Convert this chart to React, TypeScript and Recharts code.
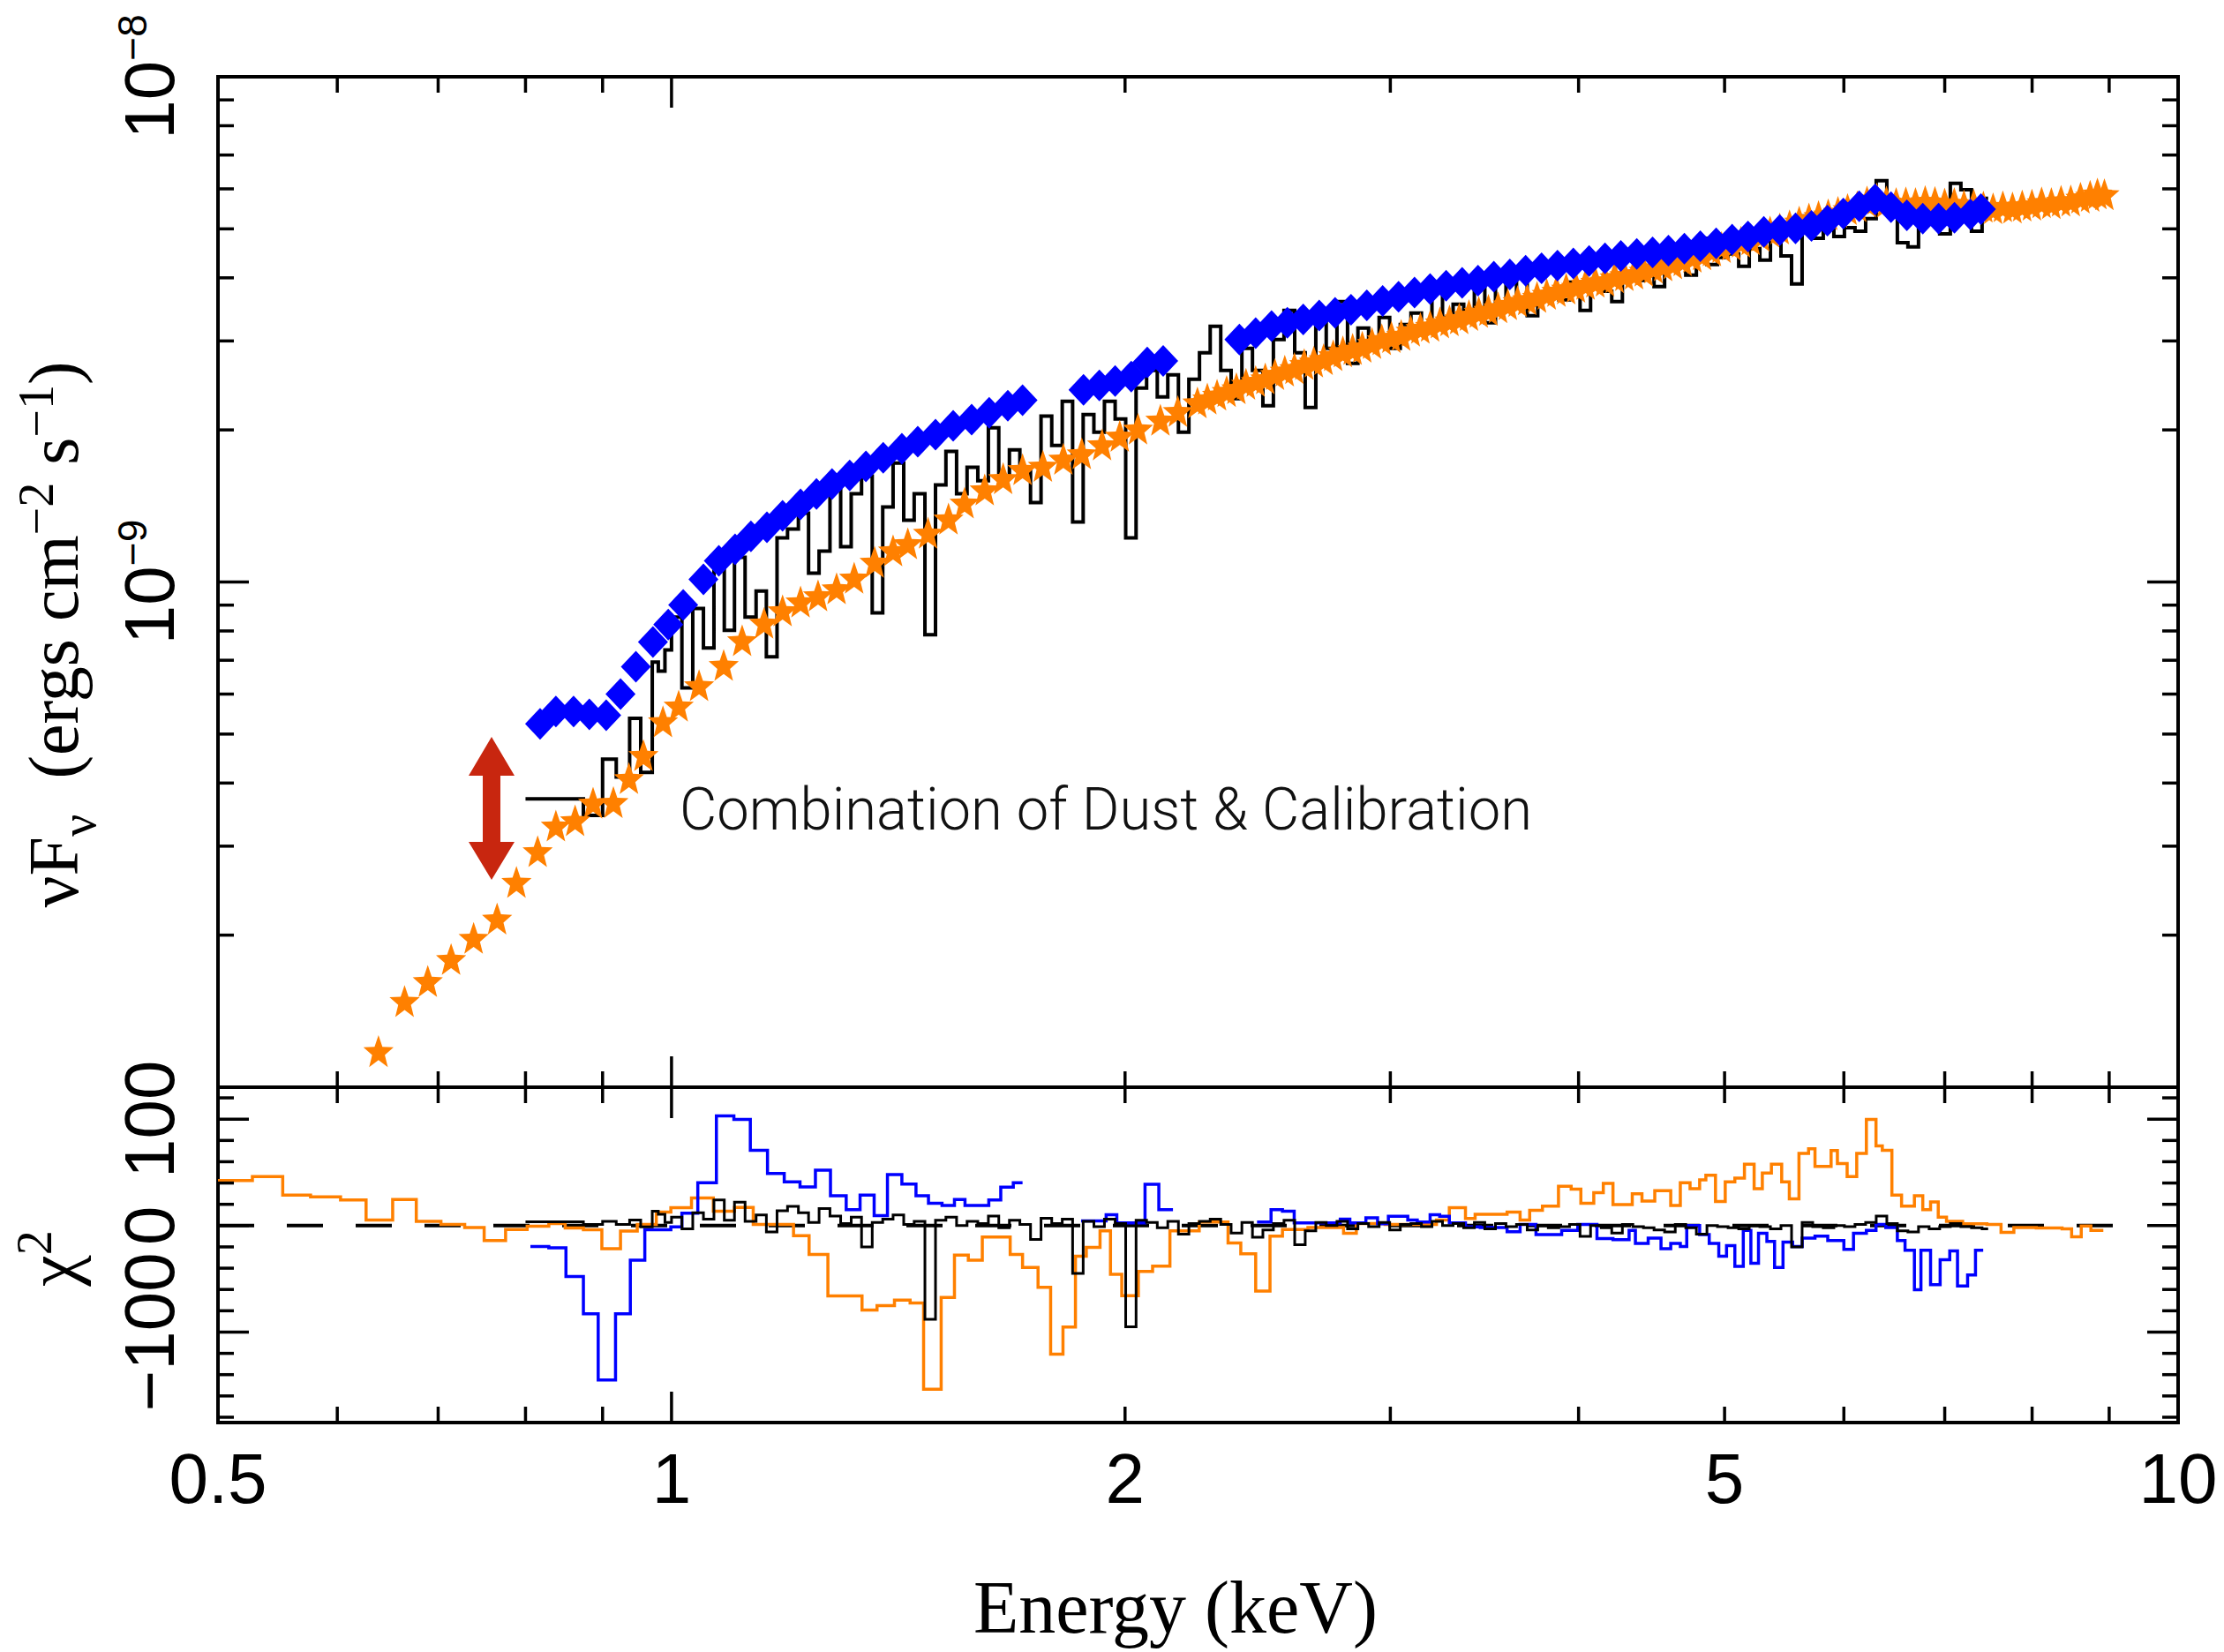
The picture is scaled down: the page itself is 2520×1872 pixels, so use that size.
import React from 'react';
import { ComposedChart, Line, Scatter, XAxis, YAxis, ReferenceArea } from 'recharts';

// model points (orange stars), flux in units of 1e-9 ergs cm^-2 s^-1
const starEnergy = [
  0.639, 0.665, 0.689, 0.714, 0.739, 0.766, 0.789, 0.815, 0.838, 0.863,
  0.887, 0.915, 0.937, 0.958, 0.987, 1.011, 1.043, 1.083, 1.114, 1.152,
  1.185, 1.218, 1.251, 1.287, 1.322, 1.364, 1.403, 1.435, 1.48, 1.527,
  1.565, 1.614, 1.66, 1.71, 1.764, 1.82, 1.872, 1.931, 1.984, 2.04,
  2.111, 2.168, 2.234, 2.268, 2.302, 2.336, 2.371, 2.406, 2.442, 2.478,
  2.515, 2.553, 2.591, 2.63, 2.669, 2.709, 2.749, 2.79, 2.832, 2.874,
  2.917, 2.961, 3.005, 3.05, 3.095, 3.141, 3.188, 3.236, 3.284, 3.333,
  3.383, 3.434, 3.485, 3.537, 3.59, 3.644, 3.698, 3.754, 3.81, 3.867,
  3.925, 3.984, 4.043, 4.104, 4.165, 4.227, 4.29, 4.354, 4.419, 4.485,
  4.552, 4.62, 4.69, 4.76, 4.831, 4.904, 4.977, 5.052, 5.127, 5.203,
  5.281, 5.36, 5.44, 5.522, 5.604, 5.688, 5.772, 5.858, 5.946, 6.034,
  6.124, 6.216, 6.309, 6.403, 6.499, 6.596, 6.694, 6.794, 6.896, 6.999,
  7.103, 7.209, 7.317, 7.426, 7.537, 7.65, 7.764, 7.88, 7.998, 8.117,
  8.239, 8.362, 8.487, 8.614, 8.742, 8.84, 8.935,
];
const starFlux = [
  0.117, 0.147, 0.161, 0.178, 0.196, 0.214, 0.253, 0.291, 0.327, 0.335,
  0.363, 0.364, 0.406, 0.451, 0.526, 0.565, 0.62, 0.68, 0.761, 0.824,
  0.872, 0.908, 0.934, 0.964, 1.012, 1.088, 1.146, 1.184, 1.242, 1.325,
  1.425, 1.513, 1.593, 1.66, 1.685, 1.74, 1.784, 1.858, 1.932, 1.996,
  2.079, 2.163, 2.25, 2.29, 2.33, 2.37, 2.4, 2.45, 2.48, 2.51,
  2.56, 2.6, 2.63, 2.68, 2.71, 2.74, 2.79, 2.84, 2.87, 2.9,
  2.95, 3.0, 3.03, 3.06, 3.12, 3.16, 3.19, 3.24, 3.27, 3.3,
  3.35, 3.4, 3.43, 3.47, 3.52, 3.57, 3.6, 3.64, 3.69, 3.74,
  3.78, 3.81, 3.86, 3.9, 3.92, 3.98, 4.02, 4.05, 4.1, 4.16,
  4.2, 4.24, 4.3, 4.37, 4.42, 4.5, 4.57, 4.62, 4.68, 4.73,
  4.81, 4.9, 4.97, 5.04, 5.13, 5.2, 5.26, 5.3, 5.36, 5.43,
  5.5, 5.62, 5.7, 5.62, 5.58, 5.6, 5.58, 5.63, 5.61, 5.57,
  5.58, 5.52, 5.54, 5.49, 5.45, 5.5, 5.47, 5.52, 5.54, 5.6,
  5.58, 5.64, 5.65, 5.72, 5.77, 5.83, 5.81,
];

// blue diamonds
const diamondEnergy = [
  0.818, 0.838, 0.861, 0.882, 0.905, 0.925, 0.947, 0.972, 0.995, 1.018,
  1.05, 1.075, 1.102, 1.129, 1.157, 1.185, 1.218, 1.248, 1.278, 1.313,
  1.346, 1.382, 1.422, 1.457, 1.497, 1.538, 1.582, 1.625, 1.672, 1.71,
  1.877, 1.923, 1.97, 2.019, 2.069, 2.12,
  2.382, 2.442, 2.502, 2.563, 2.626, 2.691, 2.757, 2.825, 2.894, 2.965,
  3.038, 3.113, 3.188, 3.267, 3.348, 3.43, 3.514, 3.601, 3.689, 3.78,
  3.873, 3.968, 4.065, 4.165, 4.267, 4.372, 4.479, 4.589, 4.702, 4.818,
  4.936, 5.058, 5.182, 5.309, 5.44, 5.573, 5.71, 5.851, 5.995, 6.142,
  6.293, 6.448, 6.606, 6.769, 6.935, 7.105, 7.28, 7.398,
];
const diamondFlux = [
  0.524, 0.554, 0.554, 0.547, 0.545, 0.6, 0.68, 0.761, 0.824, 0.901,
  1.012, 1.101, 1.16, 1.232, 1.283, 1.352, 1.425, 1.494, 1.562, 1.626,
  1.693, 1.762, 1.835, 1.895, 1.957, 2.037, 2.095, 2.163, 2.234, 2.289,
  2.4, 2.449, 2.499, 2.55, 2.72, 2.74,
  3.02, 3.11, 3.21, 3.26, 3.31, 3.37, 3.41, 3.46, 3.53, 3.6,
  3.67, 3.74, 3.8, 3.86, 3.91, 3.95, 4.02, 4.06, 4.13, 4.18,
  4.23, 4.27, 4.32, 4.37, 4.42, 4.46, 4.49, 4.53, 4.57, 4.62,
  4.68, 4.76, 4.83, 4.93, 4.97, 5.01, 5.07, 5.19, 5.36, 5.54,
  5.72, 5.52, 5.32, 5.24, 5.24, 5.26, 5.34, 5.47,
];

// black histogram: bin left edges (last entry closes the final bin)
const blackEdges = [
  0.8, 0.874, 0.9, 0.919, 0.938, 0.954, 0.971, 0.98, 0.99,
  1.0, 1.016, 1.033, 1.05, 1.067, 1.084, 1.101, 1.119, 1.138, 1.156,
  1.175, 1.194, 1.214, 1.233, 1.253, 1.274, 1.295, 1.316, 1.337, 1.359,
  1.381, 1.403, 1.426, 1.449, 1.473, 1.497, 1.521, 1.546, 1.571, 1.597,
  1.623, 1.649, 1.676, 1.703, 1.731, 1.759, 1.788, 1.817, 1.846, 1.876,
  1.907, 1.938, 1.97, 2.002, 2.034, 2.067, 2.101, 2.135, 2.17, 2.205,
  2.241, 2.278, 2.315, 2.352, 2.391, 2.43, 2.469, 2.509, 2.55, 2.592,
  2.634, 2.677, 2.72, 2.765, 2.81, 2.855, 2.902, 2.949, 2.997, 3.046,
  3.096, 3.146, 3.197, 3.249, 3.302, 3.356, 3.411, 3.466, 3.523, 3.58,
  3.638, 3.698, 3.758, 3.819, 3.881, 3.945, 4.009, 4.074, 4.141, 4.208,
  4.277, 4.346, 4.417, 4.489, 4.562, 4.637, 4.712, 4.789, 4.867, 4.946,
  5.027, 5.109, 5.192, 5.277, 5.363, 5.45, 5.539, 5.629, 5.721, 5.814,
  5.909, 6.005, 6.103, 6.203, 6.304, 6.407, 6.511, 6.617, 6.725, 6.835,
  6.946, 7.06, 7.175, 7.292, 7.411, 7.48,
];
const blackFlux = [
  0.372, 0.345, 0.446, 0.411, 0.537, 0.42, 0.694, 0.666, 0.734,
  0.852, 0.617, 0.886, 0.74, 1.084, 0.802, 1.119, 0.852, 0.96, 0.711,
  1.223, 1.273, 1.368, 1.041, 1.151, 1.543, 1.174, 1.495, 1.62, 0.869,
  1.407, 1.72, 1.325, 1.495, 0.786, 1.556, 1.813, 1.495, 1.686, 1.587,
  2.02, 1.62, 1.827, 1.686, 1.436, 2.129, 1.864, 2.279, 1.314, 2.146,
  1.98, 2.279, 2.103, 1.223, 2.421, 2.624, 2.325, 2.571, 1.98, 2.52,
  2.843, 3.207, 2.624, 2.307, 2.9, 2.624, 2.234, 3.019, 3.447, 2.843,
  2.216, 3.272, 2.9, 3.589, 2.709, 3.181, 3.019, 3.338, 2.9, 3.233,
  3.406, 3.181, 3.889, 3.338, 3.545, 3.312, 3.889, 3.259, 4.049, 3.545,
  4.0, 3.365, 3.691, 3.796, 3.617, 3.92, 3.447, 3.952, 3.765, 3.589,
  4.081, 3.952, 4.164, 3.842, 4.249, 4.512, 4.049, 4.792, 4.249, 4.387,
  4.458, 4.215, 4.567, 4.335, 4.754, 4.422, 3.889, 5.3, 4.792, 5.09,
  4.831, 5.029, 4.949, 5.236, 6.225, 5.744, 4.697, 4.604, 5.561, 5.516,
  4.889, 6.15, 5.979, 4.949, 5.744,
];
const blackChi = [
  3.5, 1.1, 3.9, 1.1, 5.2, -1.1, 13.5, 10.7, 3,
  8, -3, 12, 6, 24, 5, 22, 4, 10, -6,
  14, 18, 12, 3, 16, 9, 2, 8, -20, 3,
  6, 10, 1, 4, -88, 5, 8, 0, 4, 2,
  9, -2, 5, 1, -13, 7, 2, 6, -45, 4,
  -1, 6, 2, -95, 5, 3, -2, 4, -8, 2,
  4, 6, 1, -7, 3, -11, -4, 2, 5, -18,
  -5, 3, 0, 4, -3, 2, -1, 3, -4, 1,
  2, -1, 4, 0, 2, -2, 3, -3, 2, -1,
  1, -4, 0, -2, -1, 1, -10, 0, -2, -7,
  1, -1, -2, -4, -6, 1, -2, -8, 0, -1,
  -2, -3, 0, -1, -3, 0, -20, 3, -1, -2,
  0, -1, 1, 3, 9, 2, -5, -6, -1, -3,
  -1, 2, -1, -2, -3,
];

// orange residuals
const orangeChiEdges = [
  0.5, 0.527, 0.552, 0.576, 0.603, 0.627, 0.653, 0.677, 0.703, 0.729,
  0.751, 0.776, 0.802, 0.829, 0.85, 0.874, 0.899, 0.925, 0.949, 0.977,
  0.999, 1.031, 1.066, 1.101, 1.133, 1.205, 1.234, 1.27, 1.338, 1.369,
  1.406, 1.44, 1.47, 1.51, 1.541, 1.574, 1.608, 1.678, 1.71, 1.751,
  1.785, 1.819, 1.854, 1.885, 1.925, 1.956, 1.99, 2.041, 2.086, 2.142,
  2.24, 2.341, 2.387, 2.442, 2.496, 2.544, 2.645, 2.793, 2.848, 2.976,
  3.219, 3.283, 3.365, 3.415, 3.586, 3.658, 3.712, 3.785, 3.879, 3.955,
  4.014, 4.094, 4.154, 4.216, 4.342, 4.407, 4.494, 4.605, 4.673, 4.743,
  4.813, 4.859, 4.931, 5.005, 5.079, 5.154, 5.231, 5.297, 5.371, 5.456,
  5.52, 5.602, 5.685, 5.741, 5.884, 5.941, 6.03, 6.119, 6.21, 6.302,
  6.363, 6.457, 6.553, 6.683, 6.769, 6.85, 6.931, 7.019, 7.194, 7.466,
  7.629, 7.78, 8.051, 8.375, 8.498, 8.624, 8.752, 8.92,
];
const orangeChi = [
  42.4, 46, 28.7, 27, 24.2, 5.2, 24.5, 3.9, 1.1, -1.7,
  -14, -3.6, -0.6, 1.9, -2.2, -3.9, -21.8, -5.2, 1.1, 12.7,
  16.8, 25.9, 13.5, 17.1, 1.1, -9.4, -27, -66.1, -79.3, -75.2,
  -70, -72.7, -153.7, -67.5, -27.8, -32.5, -10.7, -27, -39.4, -57.9,
  -120.7, -95.3, -28.7, -20.4, -5, -45.7, -65.8, -43, -38, -5,
  3.3, -16.3, -26.4, -61.4, -9.9, -3.6, -1.7, -7.2, 1.9, 1.1,
  5.2, 16.8, 6.6, 10.7, 12.7, 5.2, 14.3, 18.2, 36.9, 34.2,
  20.9, 30.9, 39.7, 19.8, 30, 23.1, 32.8, 19, 40.2, 34.7,
  43, 47.4, 22.6, 41, 44.6, 57.6, 34.7, 49.3, 57.6, 41,
  25.1, 67.8, 72.2, 55.6, 70.5, 58.4, 46, 67.8, 99.7, 74.9,
  70.8, 28.7, 18.2, 28.1, 14.9, 22.3, 8, 3.9, 1.7, 1.1,
  -6.3, -1.7, -2.2, -3, -10.5, -0.3, -4.4,
];

// blue residuals, three separate groups
const blueChiEdgesA = [
  0.806, 0.829, 0.851, 0.874, 0.894, 0.918, 0.939, 0.96, 0.999, 1.016,
  1.041, 1.071, 1.1, 1.128, 1.158, 1.188, 1.217, 1.246, 1.275, 1.306,
  1.334, 1.363, 1.391, 1.422, 1.453, 1.481, 1.512, 1.541, 1.566, 1.624,
  1.654, 1.686, 1.71,
];
const blueChiA = [
  -19.6, -20.9, -47.9, -82.9, -144.9, -82.9, -32.5, -3.9, -1.1, 11.6,
  40.2, 103, 99.7, 70.8, 49, 41, 36.4, 52.1, 28.1, 14.9,
  28.7, 9.4, 47.9, 39.1, 28.1, 20.9, 19, 24.5, 19, 24,
  36.1, 40.2,
];
const blueChiEdgesB = [1.87, 1.943, 1.975, 2.062, 2.106, 2.152];
const blueChiB = [4.4, 10.2, 2.5, 38.8, 14.9];
const blueChiEdgesC = [
  2.447, 2.5, 2.544, 2.59, 2.779, 2.82, 2.89, 2.942, 2.991, 3.081,
  3.126, 3.188, 3.235, 3.283, 3.365, 3.442, 3.586, 3.658, 3.748, 3.898,
  3.995, 4.114, 4.216, 4.321, 4.363, 4.449, 4.537, 4.605, 4.673, 4.719,
  4.813, 4.884, 4.956, 5.015, 5.079, 5.145, 5.205, 5.266, 5.334, 5.397,
  5.467, 5.548, 5.63, 5.741, 5.854, 6.0, 6.089, 6.21, 6.302, 6.397,
  6.511, 6.588, 6.683, 6.75, 6.85, 6.951, 7.054, 7.138, 7.249, 7.337,
  7.424,
];
const blueChiC = [
  3.3, 14.9, 13.5, 2.5, 6.1, 2.5, 7.4, 1.7, 8.8, 5.2,
  3.3, 10.2, 8.8, 2.5, -1.1, -1.7, -5.8, 1.1, -8.5, -4.4,
  1.1, -12.1, -13.2, -4.4, -16.8, -11.8, -21.8, -16.8, -19.6, 0,
  -8.5, -16.8, -28.7, -18.7, -38.3, -4.4, -35.3, -7.2, -14.9, -39.4,
  -15.4, -19.6, -11.8, -9.9, -14, -22.3, -7.2, -4.4, 1.1, -1.7,
  -14, -23.1, -60.3, -23.1, -55.4, -32, -23.7, -56.7, -46.3, -23.1,
];
const zeroLineEnergy = [0.5, 9.2];

const xTicks = [0.5, 0.6, 0.7, 0.8, 0.9, 1, 2, 3, 4, 5, 6, 7, 8, 9, 10];
const xLabels: Record<string, string> = { '0.5': '0.5', '1': '1', '2': '2', '5': '5', '10': '10' };
const fluxTicks = [
  1e-10, 2e-10, 3e-10, 4e-10, 5e-10, 6e-10, 7e-10, 8e-10, 9e-10,
  1e-9, 2e-9, 3e-9, 4e-9, 5e-9, 6e-9, 7e-9, 8e-9, 9e-9, 1e-8,
];
const chiTicks = [-180, -160, -140, -120, -100, -80, -60, -40, -20, 0, 20, 40, 60, 80, 100, 120];
const chiLabels: Record<string, string> = { '-100': '\u2212100', '0': '0', '100': '100' };

const ORANGE = '#FF8000';
const BLUE = '#0000FF';
const INK = '#000';
const SANS = '"Liberation Sans", Arial, Helvetica, sans-serif';
const SERIF = '"Liberation Serif", "Times New Roman", serif';

const PLOT_W = 2221;
const TOP_H = 1145;
const RES_H = 380;
const TICK_W = 3.5;

const pointRows = (es: number[], fs: number[]) => es.map((e, i) => ({ e, f: fs[i] * 1e-9 }));
const stepRows = (edges: number[], vals: number[], scale = 1) =>
  edges.map((e, i) => ({ e, v: vals[Math.min(i, vals.length - 1)] * scale }));

const starRows = pointRows(starEnergy, starFlux);
const diamondRows = pointRows(diamondEnergy, diamondFlux);
const blackRows = stepRows(blackEdges, blackFlux, 1e-9);
const blackChiRows = stepRows(blackEdges, blackChi);
const orangeChiRows = stepRows(orangeChiEdges, orangeChi);
const blueRowsA = stepRows(blueChiEdgesA, blueChiA);
const blueRowsB = stepRows(blueChiEdgesB, blueChiB);
const blueRowsC = stepRows(blueChiEdgesC, blueChiC);
const zeroRows = zeroLineEnergy.map((e) => ({ e, v: 0 }));

const Star = (p: any) => {
  const pts: string[] = [];
  for (let k = 0; k < 10; k++) {
    const a = -Math.PI / 2 + (k * Math.PI) / 5;
    const r = k % 2 === 0 ? 1 : 0.42;
    pts.push(`${p.cx + 18 * r * Math.cos(a)},${p.cy + 20 * r * Math.sin(a)}`);
  }
  return <polygon points={pts.join(' ')} fill={ORANGE} />;
};

const Diamond = (p: any) => (
  <polygon
    points={`${p.cx},${p.cy - 18} ${p.cx + 17},${p.cy} ${p.cx},${p.cy + 18} ${p.cx - 17},${p.cy}`}
    fill={BLUE}
  />
);

function makeXTick(panelH: number, withLabels: boolean) {
  return (props: any) => {
    const { x, y, payload } = props;
    const v = payload.value;
    const len = v === 1 || v === 10 ? 35 : 18;
    const label = withLabels ? xLabels[String(v)] : undefined;
    return (
      <g>
        <line x1={x} x2={x} y1={y} y2={y - len} stroke={INK} strokeWidth={TICK_W} />
        <line x1={x} x2={x} y1={y - panelH} y2={y - panelH + len} stroke={INK} strokeWidth={TICK_W} />
        {label && (
          <text x={x} y={y + 91} textAnchor="middle" fontFamily={SANS} fontSize={80} fill={INK}>
            {label}
          </text>
        )}
      </g>
    );
  };
}

const fluxTick = (props: any) => {
  const { x, y, payload } = props;
  const v = payload.value;
  const exp = Math.round(Math.log10(v));
  const major = Math.abs(v / Math.pow(10, exp) - 1) < 1e-6;
  const len = major ? 35 : 18;
  return (
    <g>
      <line x1={x} x2={x + len} y1={y} y2={y} stroke={INK} strokeWidth={TICK_W} />
      <line x1={x + PLOT_W} x2={x + PLOT_W - len} y1={y} y2={y} stroke={INK} strokeWidth={TICK_W} />
      {major && exp > -10 && (
        <text transform={`translate(${x - 50} ${y}) rotate(-90)`} textAnchor="middle" fontFamily={SANS} fontSize={80} fill={INK}>
          10
          <tspan dy={-31} fontSize={46}>{`\u2212${-exp}`}</tspan>
        </text>
      )}
    </g>
  );
};

const chiTick = (props: any) => {
  const { x, y, payload } = props;
  const v = payload.value;
  const label = chiLabels[String(v)];
  const len = label ? 35 : 18;
  return (
    <g>
      <line x1={x} x2={x + len} y1={y} y2={y} stroke={INK} strokeWidth={TICK_W} />
      <line x1={x + PLOT_W} x2={x + PLOT_W - len} y1={y} y2={y} stroke={INK} strokeWidth={TICK_W} />
      {label && (
        <text transform={`translate(${x - 50} ${y}) rotate(-90)`} textAnchor="middle" fontFamily={SANS} fontSize={80} fill={INK}>
          {label}
        </text>
      )}
    </g>
  );
};

export default function App() {
  return (
    <div style={{ position: 'absolute', left: 0, top: 0, width: 2520, height: 1872, background: '#fff' }}>
      <div style={{ position: 'absolute', left: 0, top: 1132 }}>
        <ComposedChart width={2520} height={740} margin={{ top: 100, right: 52, bottom: 259, left: 246 }}>
          <XAxis
            dataKey="e"
            type="number"
            scale="log"
            domain={[0.5, 10]}
            allowDataOverflow
            ticks={xTicks}
            interval={0}
            height={1}
            tickSize={0}
            tickMargin={0}
            tickLine={false}
            axisLine={false}
            tick={makeXTick(RES_H, true)}
          />
          <YAxis
            type="number"
            domain={[-185, 130]}
            allowDataOverflow
            ticks={chiTicks}
            interval={0}
            width={1}
            tickSize={0}
            tickMargin={0}
            tickLine={false}
            axisLine={false}
            tick={chiTick}
          />
          <ReferenceArea x1={0.5} x2={10} y1={-185} y2={130} fill="none" stroke={INK} strokeWidth={4} ifOverflow="visible" />
          <Line data={zeroRows} dataKey="v" stroke={INK} strokeWidth={4} strokeDasharray="41 37" dot={false} activeDot={false} isAnimationActive={false} />
          <Line data={orangeChiRows} dataKey="v" type="stepAfter" stroke={ORANGE} strokeWidth={3.5} dot={false} activeDot={false} isAnimationActive={false} />
          <Line data={blueRowsA} dataKey="v" type="stepAfter" stroke={BLUE} strokeWidth={3.5} dot={false} activeDot={false} isAnimationActive={false} />
          <Line data={blueRowsB} dataKey="v" type="stepAfter" stroke={BLUE} strokeWidth={3.5} dot={false} activeDot={false} isAnimationActive={false} />
          <Line data={blueRowsC} dataKey="v" type="stepAfter" stroke={BLUE} strokeWidth={3.5} dot={false} activeDot={false} isAnimationActive={false} />
          <Line data={blackChiRows} dataKey="v" type="stepAfter" stroke={INK} strokeWidth={3} dot={false} activeDot={false} isAnimationActive={false} />
        </ComposedChart>
      </div>

      <div style={{ position: 'absolute', left: 0, top: 0 }}>
        <ComposedChart width={2520} height={1240} margin={{ top: 87, right: 52, bottom: 7, left: 246 }}>
          <XAxis
            dataKey="e"
            type="number"
            scale="log"
            domain={[0.5, 10]}
            allowDataOverflow
            ticks={xTicks}
            interval={0}
            height={1}
            tickSize={0}
            tickMargin={0}
            tickLine={false}
            axisLine={false}
            tick={makeXTick(TOP_H, false)}
          />
          <YAxis
            type="number"
            scale="log"
            domain={[1e-10, 1e-8]}
            allowDataOverflow
            ticks={fluxTicks}
            interval={0}
            width={1}
            tickSize={0}
            tickMargin={0}
            tickLine={false}
            axisLine={false}
            tick={fluxTick}
          />
          <ReferenceArea x1={0.5} x2={10} y1={1e-10} y2={1e-8} fill="none" stroke={INK} strokeWidth={4} ifOverflow="visible" />
          <Scatter data={starRows} dataKey="f" shape={Star} isAnimationActive={false} />
          <Scatter data={diamondRows} dataKey="f" shape={Diamond} isAnimationActive={false} />
          <Line data={blackRows} dataKey="v" type="stepAfter" stroke={INK} strokeWidth={4} dot={false} activeDot={false} isAnimationActive={false} />
        </ComposedChart>
      </div>

      <svg width={2520} height={1872} style={{ position: 'absolute', left: 0, top: 0, pointerEvents: 'none' }}>
        <polygon
          points="557,835 583,879 567,879 567,954 583,954 557,997 531,954 547,954 547,879 531,879"
          fill="#C8260F"
        />
        <text
          x={770}
          y={940}
          fontFamily='Roboto, "Liberation Sans", sans-serif'
          fontWeight={300}
          fontSize={67}
          textLength={966}
          lengthAdjust="spacingAndGlyphs"
          fill="#111"
        >
          Combination of Dust &amp; Calibration
        </text>
        <text transform="translate(88 719) rotate(-90)" textAnchor="middle" fontFamily={SERIF} fontSize={80} fill={INK}>
          νF
          <tspan dy={20} fontSize={56}>ν</tspan>
          <tspan dy={-20} dx={40}>(ergs cm</tspan>
          <tspan dy={-28} fontSize={56}>−2</tspan>
          <tspan dy={28}> s</tspan>
          <tspan dy={-28} fontSize={56}>−1</tspan>
          <tspan dy={28}>)</tspan>
        </text>
        <text transform="translate(86 1426) rotate(-90)" textAnchor="middle" fontFamily={SERIF} fontSize={80} fill={INK}>
          χ
          <tspan dy={-28} fontSize={56}>2</tspan>
        </text>
        <text x={1332} y={1850} textAnchor="middle" fontFamily={SERIF} fontSize={84} fill={INK}>
          Energy (keV)
        </text>
      </svg>
    </div>
  );
}
